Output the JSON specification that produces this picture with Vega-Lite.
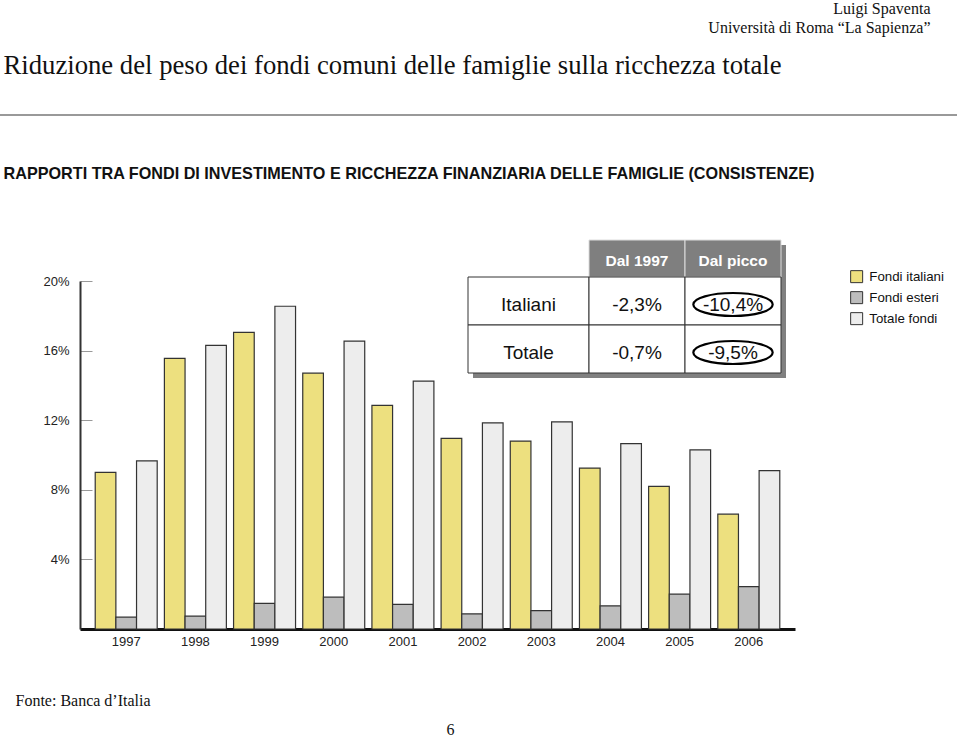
{
  "$schema": "https://vega.github.io/schema/vega-lite/v6.json",
  "width": 715,
  "height": 348,
  "autosize": {"type": "none"},
  "padding": {"left": 80, "top": 281, "right": 165, "bottom": 108},
  "background": "white",
  "config": {"view": {"stroke": null}, "font": "Liberation Sans"},
  "datasets": {
    "barre": [
      {"anno": "1997", "serie": "Fondi italiani", "valore": 9.0},
      {"anno": "1997", "serie": "Fondi esteri", "valore": 0.68},
      {"anno": "1997", "serie": "Totale fondi", "valore": 9.66},
      {"anno": "1998", "serie": "Fondi italiani", "valore": 15.55},
      {"anno": "1998", "serie": "Fondi esteri", "valore": 0.74},
      {"anno": "1998", "serie": "Totale fondi", "valore": 16.3},
      {"anno": "1999", "serie": "Fondi italiani", "valore": 17.05},
      {"anno": "1999", "serie": "Fondi esteri", "valore": 1.47},
      {"anno": "1999", "serie": "Totale fondi", "valore": 18.55},
      {"anno": "2000", "serie": "Fondi italiani", "valore": 14.7},
      {"anno": "2000", "serie": "Fondi esteri", "valore": 1.83},
      {"anno": "2000", "serie": "Totale fondi", "valore": 16.55},
      {"anno": "2001", "serie": "Fondi italiani", "valore": 12.85},
      {"anno": "2001", "serie": "Fondi esteri", "valore": 1.41},
      {"anno": "2001", "serie": "Totale fondi", "valore": 14.25},
      {"anno": "2002", "serie": "Fondi italiani", "valore": 10.95},
      {"anno": "2002", "serie": "Fondi esteri", "valore": 0.87},
      {"anno": "2002", "serie": "Totale fondi", "valore": 11.85},
      {"anno": "2003", "serie": "Fondi italiani", "valore": 10.8},
      {"anno": "2003", "serie": "Fondi esteri", "valore": 1.06},
      {"anno": "2003", "serie": "Totale fondi", "valore": 11.9},
      {"anno": "2004", "serie": "Fondi italiani", "valore": 9.25},
      {"anno": "2004", "serie": "Fondi esteri", "valore": 1.33},
      {"anno": "2004", "serie": "Totale fondi", "valore": 10.65},
      {"anno": "2005", "serie": "Fondi italiani", "valore": 8.2},
      {"anno": "2005", "serie": "Fondi esteri", "valore": 2.0},
      {"anno": "2005", "serie": "Totale fondi", "valore": 10.3},
      {"anno": "2006", "serie": "Fondi italiani", "valore": 6.6},
      {"anno": "2006", "serie": "Fondi esteri", "valore": 2.43},
      {"anno": "2006", "serie": "Totale fondi", "valore": 9.1}
    ],
    "tabella": [
      {"riga": "intestazione", "colonna": "Dal 1997", "testo": "Dal 1997"},
      {"riga": "intestazione", "colonna": "Dal picco", "testo": "Dal picco"},
      {"riga": "Italiani", "colonna": "etichetta", "testo": "Italiani"},
      {"riga": "Totale", "colonna": "etichetta", "testo": "Totale"},
      {"riga": "Italiani", "colonna": "Dal 1997", "testo": "-2,3%"},
      {"riga": "Italiani", "colonna": "Dal picco", "testo": "-10,4%"},
      {"riga": "Totale", "colonna": "Dal 1997", "testo": "-0,7%"},
      {"riga": "Totale", "colonna": "Dal picco", "testo": "-9,5%"}
    ]
  },
  "resolve": {"scale": {"x": "independent", "y": "independent"}},
  "layer": [
    {
      "data": {"name": "barre"},
      "mark": {"type": "bar", "stroke": "#333333", "strokeWidth": 1.2},
      "encoding": {
        "x": {
          "field": "anno", "type": "nominal",
          "scale": {"paddingInner": 0.104, "paddingOuter": 0.22},
          "axis": {
            "domainColor": "#111111", "domainWidth": 3, "ticks": false, "labelAngle": 0,
            "labelPadding": 6, "labelFontSize": 13, "labelFont": "Liberation Sans", "labelColor": "#222222",
            "grid": false, "title": "6", "titleX": 370, "titleY": 105, "titleAlign": "center",
            "titleBaseline": "alphabetic", "titleFont": "Liberation Serif", "titleFontSize": 16,
            "titleFontWeight": "normal", "titleColor": "#111111"
          }
        },
        "xOffset": {
          "field": "serie", "type": "nominal",
          "scale": {"domain": ["Fondi italiani", "Fondi esteri", "Totale fondi"], "paddingInner": 0, "paddingOuter": 0}
        },
        "y": {
          "field": "valore", "type": "quantitative",
          "scale": {"domain": [0, 20], "nice": false},
          "axis": {
            "values": [4, 8, 12, 16, 20], "labelExpr": "datum.value + '%'",
            "domainColor": "#333333", "domainWidth": 2, "tickColor": "#999999", "tickSize": -12, "tickWidth": 1,
            "labelPadding": 23, "labelFontSize": 13, "labelFont": "Liberation Sans", "labelColor": "#222222",
            "grid": false, "title": "Fonte: Banca d’Italia", "titleAngle": 0, "titleX": -65, "titleY": 424,
            "titleAlign": "left", "titleBaseline": "alphabetic", "titleFont": "Liberation Serif",
            "titleFontSize": 16, "titleFontWeight": "normal", "titleColor": "#111111"
          }
        },
        "color": {
          "field": "serie", "type": "nominal",
          "scale": {"domain": ["Fondi italiani", "Fondi esteri", "Totale fondi"], "range": ["#ede07f", "#bdbdbd", "#ededed"]},
          "legend": {
            "title": null, "orient": "none", "legendX": 770, "legendY": -11, "symbolType": "square",
            "symbolSize": 144, "symbolStrokeColor": "#333333", "symbolStrokeWidth": 1,
            "labelFont": "Liberation Sans", "labelFontSize": 13.3, "labelColor": "#111111",
            "labelOffset": 6, "rowPadding": 4, "padding": 0
          }
        }
      }
    },
    {
      "data": {"values": [{"elemento": "separatore"}]},
      "mark": {"type": "rule", "stroke": "#777777", "strokeWidth": 1.5},
      "encoding": {
        "x": {
          "datum": 0, "type": "quantitative",
          "scale": {"domain": [0, 1], "range": [-80, 877]},
          "axis": {
            "orient": "top", "domain": false, "ticks": false, "labels": false, "grid": false,
            "title": ["Luigi Spaventa", "Università di Roma “La Sapienza”"],
            "titleX": 850, "titleY": -268, "titleAlign": "right", "titleBaseline": "alphabetic",
            "titleFont": "Liberation Serif", "titleFontSize": 16, "titleFontWeight": "normal",
            "titleColor": "#111111", "titleLineHeight": 19, "titleAngle": 0
          }
        },
        "x2": {"datum": 1},
        "y": {
          "datum": 0, "type": "quantitative",
          "scale": {"domain": [0, 1], "range": [-166, 0]},
          "axis": {
            "orient": "left", "domain": false, "ticks": false, "labels": false, "grid": false,
            "title": "Riduzione del peso dei fondi comuni delle famiglie sulla ricchezza totale",
            "titleX": -77, "titleY": -208, "titleAngle": 0, "titleAlign": "left", "titleBaseline": "alphabetic",
            "titleFont": "Liberation Serif", "titleFontSize": 26.7, "titleFontWeight": "normal", "titleColor": "#111111"
          }
        }
      }
    },
    {
      "data": {"name": "tabella"},
      "transform": [{"filter": "datum.riga == 'intestazione'"}],
      "encoding": {
        "x": {
          "field": "colonna", "type": "nominal",
          "scale": {"domain": ["Dal 1997", "Dal picco"], "range": [509, 701], "paddingInner": 0, "paddingOuter": 0},
          "axis": {
            "orient": "top", "domain": false, "ticks": false, "labels": false, "grid": false,
            "title": "RAPPORTI TRA FONDI DI INVESTIMENTO E RICCHEZZA FINANZIARIA DELLE FAMIGLIE (CONSISTENZE)",
            "titleX": -77, "titleY": -103, "titleAlign": "left", "titleBaseline": "alphabetic",
            "titleFont": "Liberation Sans", "titleFontSize": 16.2, "titleFontWeight": "bold",
            "titleColor": "#111111", "titleAngle": 0
          }
        },
        "y": {
          "field": "riga", "type": "nominal",
          "scale": {"domain": ["intestazione"], "range": [-41, -4], "paddingInner": 0, "paddingOuter": 0},
          "axis": null
        }
      },
      "layer": [
        {"mark": {"type": "rect", "fill": "#808080", "xOffset": 5, "yOffset": 5}},
        {"mark": {"type": "rect", "fill": "#7f7f7f", "stroke": "#dddddd", "strokeWidth": 1}},
        {
          "mark": {"type": "text", "color": "#ffffff", "fontWeight": "bold", "fontSize": 15.5, "font": "Liberation Sans", "dy": 2},
          "encoding": {"text": {"field": "testo"}}
        }
      ]
    },
    {
      "data": {"name": "tabella"},
      "transform": [{"filter": "datum.colonna == 'etichetta'"}],
      "encoding": {
        "x": {
          "field": "colonna", "type": "nominal",
          "scale": {"domain": ["etichetta"], "range": [388, 509], "paddingInner": 0, "paddingOuter": 0},
          "axis": null
        },
        "y": {
          "field": "riga", "type": "nominal",
          "scale": {"domain": ["Italiani", "Totale"], "range": [-4, 92], "paddingInner": 0, "paddingOuter": 0},
          "axis": null
        }
      },
      "layer": [
        {"mark": {"type": "rect", "fill": "#808080", "xOffset": 5, "yOffset": 5}},
        {"mark": {"type": "rect", "fill": "#ffffff", "stroke": "#333333", "strokeWidth": 1}},
        {
          "mark": {"type": "text", "color": "#111111", "fontSize": 19, "font": "Liberation Sans", "dy": 4},
          "encoding": {"text": {"field": "testo"}}
        }
      ]
    },
    {
      "data": {"name": "tabella"},
      "transform": [{"filter": "datum.colonna != 'etichetta' && datum.riga != 'intestazione'"}],
      "encoding": {
        "x": {
          "field": "colonna", "type": "nominal",
          "scale": {"domain": ["Dal 1997", "Dal picco"], "range": [509, 701], "paddingInner": 0, "paddingOuter": 0},
          "axis": null
        },
        "y": {
          "field": "riga", "type": "nominal",
          "scale": {"domain": ["Italiani", "Totale"], "range": [-4, 92], "paddingInner": 0, "paddingOuter": 0},
          "axis": null
        }
      },
      "layer": [
        {"mark": {"type": "rect", "fill": "#808080", "xOffset": 5, "yOffset": 5}},
        {"mark": {"type": "rect", "fill": "#ffffff", "stroke": "#333333", "strokeWidth": 1}},
        {
          "mark": {"type": "text", "color": "#111111", "fontSize": 19, "font": "Liberation Sans", "dy": 4},
          "encoding": {"text": {"field": "testo"}}
        },
        {
          "transform": [{"filter": "datum.colonna == 'Dal picco'"}],
          "mark": {
            "type": "point", "shape": "M-1,0A1,0.29,0,1,1,1,0A1,0.29,0,1,1,-1,0Z",
            "size": 6300, "filled": false, "stroke": "#000000", "strokeWidth": 2.2, "opacity": 1, "yOffset": 3.5
          }
        }
      ]
    }
  ]
}
